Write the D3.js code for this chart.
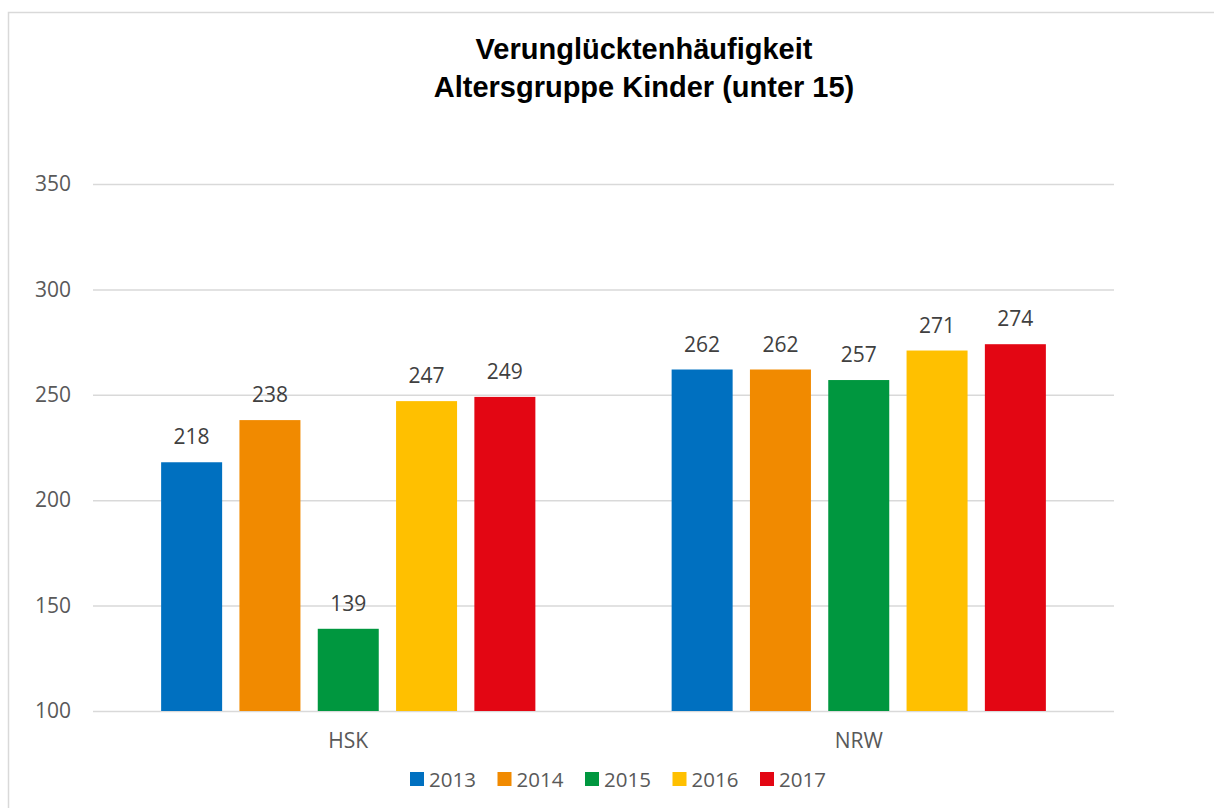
<!DOCTYPE html>
<html>
<head>
<meta charset="utf-8">
<script src="https://cdn.jsdelivr.net/npm/d3@7"></script>
<style>
  html, body { margin: 0; padding: 0; background: #fff; }
  svg { display: block; }
</style>
</head>
<body>
<svg id="chart" width="1214" height="808"></svg>
<script>
const categories = ["HSK", "NRW"];
const years = ["2013", "2014", "2015", "2016", "2017"];
const values2013 = [218, 262];
const values2014 = [238, 262];
const values2015 = [139, 257];
const values2016 = [247, 271];
const values2017 = [249, 274];
const yTicks = [100, 150, 200, 250, 300, 350];
const colors = ["#0070C0", "#F18A00", "#00973F", "#FFC000", "#E30613"];
const titleLines = ["Verunglücktenhäufigkeit", "Altersgruppe Kinder (unter 15)"];

const seriesValues = [values2013, values2014, values2015, values2016, values2017];
const rows = categories.map((c, i) => ({
  cat: c,
  vals: years.map((y, j) => ({ year: y, value: seriesValues[j][i], color: colors[j] }))
}));

const svg = d3.select("#chart");

// Border
svg.append("rect")
  .attr("x", 8.5).attr("y", 12.5)
  .attr("width", 1300).attr("height", 900)
  .attr("fill", "none").attr("stroke", "#d9d9d9").attr("stroke-width", 1.5);

const x0 = d3.scaleBand().domain(categories).range([93, 1114]).padding(0);
const x1 = d3.scaleBand().domain(years).range([0, x0.bandwidth()])
  .paddingInner(0.221).paddingOuter(0.87);
const y = d3.scaleLinear().domain([100, 350]).range([711, 184]);

// Gridlines
const yAxis = d3.axisLeft(y).tickValues(yTicks).tickSize(-(1114 - 93)).tickPadding(22);
const gy = svg.append("g").attr("transform", "translate(93,0)").call(yAxis);
gy.select(".domain").remove();
gy.selectAll(".tick line").attr("stroke", "#d9d9d9").attr("stroke-width", 1.5);
gy.selectAll(".tick text")
  .attr("font-family", "'Open Sans', sans-serif")
  .attr("font-size", 21).attr("fill", "#595959");

// Bars
const groups = svg.append("g").selectAll("g").data(rows).join("g")
  .attr("transform", d => `translate(${x0(d.cat)},0)`);
groups.selectAll("rect").data(d => d.vals).join("rect")
  .attr("x", d => x1(d.year))
  .attr("width", x1.bandwidth())
  .attr("y", d => y(d.value))
  .attr("height", d => y(100) - y(d.value))
  .attr("fill", d => d.color);
groups.selectAll("text").data(d => d.vals).join("text")
  .attr("x", d => x1(d.year) + x1.bandwidth() / 2)
  .attr("y", d => y(d.value) - 18)
  .attr("text-anchor", "middle")
  .attr("font-family", "'Open Sans', sans-serif")
  .attr("font-size", 21).attr("fill", "#404040")
  .text(d => d.value);

// Category axis
const xAxis = d3.axisBottom(x0).tickSize(0).tickPadding(22);
const gx = svg.append("g").attr("transform", "translate(0,711)").call(xAxis);
gx.select(".domain").remove();
gx.selectAll(".tick text")
  .attr("font-family", "'Open Sans', sans-serif")
  .attr("font-size", 21).attr("fill", "#595959");

// Title
svg.append("text")
  .attr("x", 644).attr("y", 59)
  .attr("text-anchor", "middle")
  .attr("font-family", "'Liberation Sans', Arial, sans-serif")
  .attr("font-weight", "bold").attr("font-size", 29).attr("fill", "#000")
  .selectAll("tspan").data(titleLines).join("tspan")
  .attr("x", 644).attr("dy", (d, i) => i === 0 ? 0 : 38)
  .text(d => d);

// Legend
const legend = svg.append("g").selectAll("g").data(years).join("g")
  .attr("transform", (d, i) => `translate(${410 + i * 87.5},772)`);
legend.append("rect").attr("width", 14).attr("height", 14)
  .attr("fill", (d, i) => colors[i]);
legend.append("text").attr("x", 19).attr("y", 14.5)
  .attr("font-family", "'Open Sans', sans-serif")
  .attr("font-size", 20.5).attr("fill", "#595959")
  .text(d => d);
</script>
</body>
</html>
